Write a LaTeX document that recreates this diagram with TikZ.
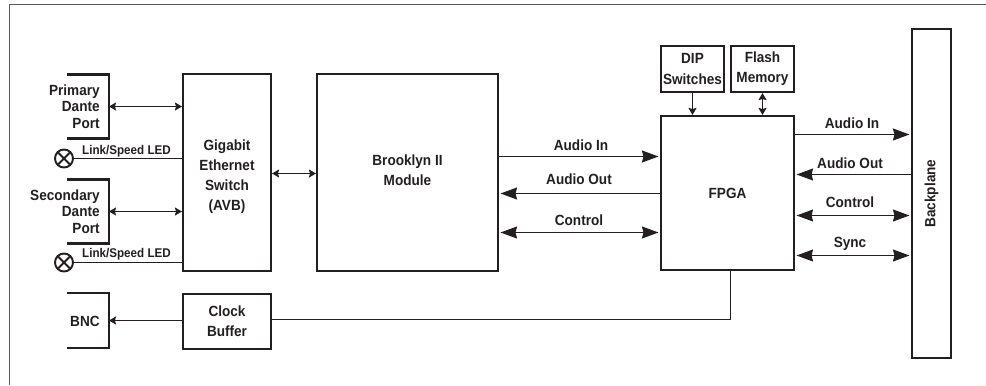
\documentclass[tikz,border=0pt]{standalone}
\usepackage{fontspec}
\setmainfont[FakeStretch=.92]{Liberation Sans}
\usetikzlibrary{arrows.meta,calc,positioning}
\definecolor{boxblack}{RGB}{35,31,32}
\definecolor{framegray}{RGB}{90,90,90}
\tikzset{
 blockbox/.style={draw=boxblack,line width=1.2pt,inner sep=0pt,align=center,font=\fontsize{8.4}{11.4}\selectfont\bfseries,text=boxblack},
 blocktext/.style={inner sep=0pt,align=center,font=\fontsize{8.4}{11.4}\selectfont\bfseries,text=boxblack},
 portbox/.style={inner sep=0pt,minimum width=.84cm,outer sep=0pt},
 portline/.style={draw=boxblack,line width=1.2pt},
 porttext/.style={anchor=east,inner sep=0pt,align=right,font=\fontsize{8.4}{9.45}\selectfont\bfseries,text=boxblack},
 sigtext/.style={inner sep=0pt,anchor=base,font=\fontsize{8.4}{9}\selectfont\bfseries,text=boxblack},
 ledtext/.style={inner sep=0pt,anchor=base,font=\fontsize{7.2}{8}\selectfont\bfseries,text=boxblack},
 wire/.style={draw=boxblack,line width=.6pt},
 bigbus/.style={wire,shorten <=.03cm,shorten >=.03cm,{Stealth[length=.33cm,width=.24cm,inset=.03cm]}-{Stealth[length=.33cm,width=.24cm,inset=.03cm]}},
 bigin/.style={wire,shorten >=.03cm,-{Stealth[length=.33cm,width=.24cm,inset=.03cm]}},
 smallbus/.style={wire,{Stealth[length=.14cm,width=.16cm,inset=.02cm]}-{Stealth[length=.14cm,width=.16cm,inset=.02cm]}},
 smallin/.style={wire,-{Stealth[length=.14cm,width=.16cm,inset=.02cm]}},
 ledlamp/.style={circle,draw=boxblack,line width=1.1pt,minimum size=.36cm,inner sep=0pt,path picture={
   \draw[boxblack,line width=1.1pt] (path picture bounding box.north west)--(path picture bounding box.south east)
     (path picture bounding box.north east)--(path picture bounding box.south west);}},
}
\begin{document}
\begin{tikzpicture}[x=.02cm,y=-.02cm,line cap=butt,line join=miter]
 \useasboundingbox (0,0) rectangle (986,385);
 % outer frame
 \draw[framegray,line width=.6pt] (9.5,385) -- (9.5,4.5) -- (986,4.5);

 % ports
 \node[portbox,minimum height=1.28cm] (primary) at (88,106.5) {};
 \node[portbox,minimum height=1.28cm] (secondary) at (88,211.5) {};
 \node[portbox,minimum height=1.1cm] (bnc) at (88,320.5) {};
 \draw[portline] (primary.north west) -- (primary.north east) -- (primary.south east) -- (primary.south west);
 \draw[portline] (secondary.north west) -- (secondary.north east) -- (secondary.south east) -- (secondary.south west);
 \draw[portline] (bnc.north west) -- (bnc.north east) -- (bnc.south east) -- (bnc.south west);
 \node[porttext] at ([xshift=-.18cm]primary.east) {Primary\\Dante\\Port};
 \node[porttext] at ([xshift=-.18cm]secondary.east) {Secondary\\Dante\\Port};
 \node[porttext] at ([xshift=-.18cm,yshift=-.02cm]bnc.east) {BNC};

 % main blocks
 \node[blockbox,minimum width=1.76cm,minimum height=3.94cm] (switch) at (227,172.5) {};
 \node[blocktext] at ([yshift=-.08cm]switch.center) {Gigabit\\Ethernet\\Switch\\(AVB)};
 \node[blockbox,minimum width=1.76cm,minimum height=1.1cm] (clockbuf) at (227,321.5) {Clock\\Buffer};
 \node[blockbox,minimum width=3.62cm,minimum height=3.94cm] (brooklyn) at (407.5,172.5) {};
 \node[blocktext] at ([yshift=.04cm]brooklyn.center) {Brooklyn II\\Module};
 \node[blockbox,minimum width=2.66cm,minimum height=3.08cm] (fpga) at (727.5,193) {FPGA};
 \node[blockbox,minimum width=1.26cm,minimum height=.92cm] (dip) at (692.5,69) {DIP\\Switches};
 \node[blockbox,minimum width=1.26cm,minimum height=.92cm] (flash) at (762.5,69) {Flash\\Memory};
 \node[blockbox,minimum width=.78cm,minimum height=6.58cm] (backplane) at (931.5,193.5) {};
 \node[sigtext,anchor=center,rotate=90] at (backplane.center) {Backplane};

 % leds
 \node[ledlamp] (ledone) at (64,158.5) {};
 \node[ledlamp] (ledtwo) at (64,262.5) {};
 \draw[wire] (ledone) -- (switch.west |- ledone);
 \draw[wire] (ledtwo) -- (switch.west |- ledtwo);
 \node[ledtext] at (126.5,154) {Link/Speed LED};
 \node[ledtext] at (126.5,257.5) {Link/Speed LED};

 % port connections
 \draw[smallbus] (primary.east) -- (switch.west |- primary.east);
 \draw[smallbus] (secondary.east) -- (switch.west |- secondary.east);
 \draw[smallin] (clockbuf.west |- bnc.east) -- (bnc.east);
 \draw[smallbus] ([yshift=-.02cm]switch.east) -- ([yshift=-.02cm]brooklyn.west);

 % brooklyn to fpga
 \coordinate (ainleft) at (fpga.west |- 0,156.5);
 \coordinate (aoutleft) at (fpga.west |- 0,193.5);
 \coordinate (ctlleft) at (fpga.west |- 0,232.5);
 \draw[bigin] (brooklyn.east |- ainleft) -- (ainleft);
 \draw[bigin] (aoutleft) -- (brooklyn.east |- aoutleft);
 \draw[bigbus] (brooklyn.east |- ctlleft) -- (ctlleft);
 \node[sigtext] at (581,150) {Audio In};
 \node[sigtext] at (579,184) {Audio Out};
 \node[sigtext] at (579,225) {Control};

 % fpga to backplane
 \coordinate (ainright) at (backplane.west |- 0,134.5);
 \coordinate (aoutright) at (backplane.west |- 0,174.5);
 \coordinate (ctlright) at (backplane.west |- 0,215.5);
 \coordinate (syncright) at (backplane.west |- 0,255.5);
 \draw[bigin] (fpga.east |- ainright) -- (ainright);
 \draw[bigin] (aoutright) -- (fpga.east |- aoutright);
 \draw[bigbus] (fpga.east |- ctlright) -- (ctlright);
 \draw[bigbus] (fpga.east |- syncright) -- (syncright);
 \node[sigtext] at (852,128) {Audio In};
 \node[sigtext] at (850,168) {Audio Out};
 \node[sigtext] at (850,207.5) {Control};
 \node[sigtext] at (850,247) {Sync};

 % top devices and clock
 \draw[smallin] (dip.south) -- (fpga.north -| dip.south);
 \draw[smallbus] (flash.south) -- (fpga.north -| flash.south);
 \coordinate (clockturn) at (730.5,319.5);
 \draw[wire] (fpga.south -| clockturn) -- (clockturn) -- (clockbuf.east |- clockturn);
\end{tikzpicture}
\end{document}
